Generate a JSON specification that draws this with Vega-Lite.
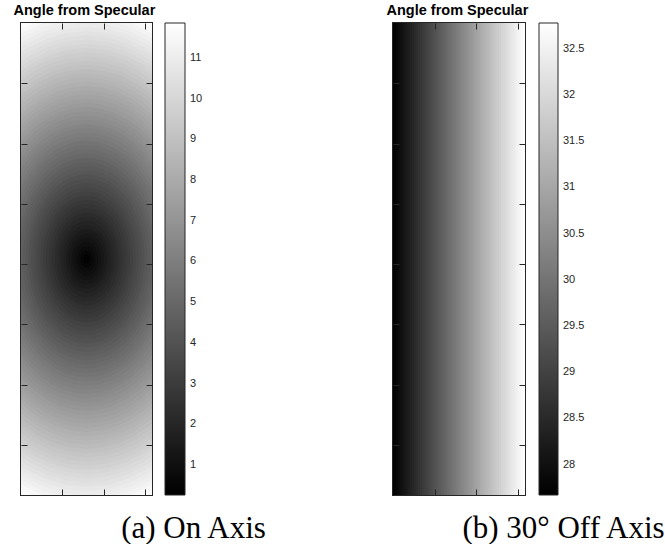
{
  "$schema": "https://vega.github.io/schema/vega-lite/v6.json",
  "padding": {"left": 12, "top": 2, "right": 0, "bottom": 0},
  "config": {
    "view": {"stroke": "#262626", "strokeWidth": 2},
    "font": "Liberation Sans",
    "axis": {"domain": false, "ticks": true, "offset": -6, "tickSize": 6, "tickColor": "#262626", "grid": false, "labels": false, "tickWidth": 1, "titleFont": "Liberation Serif", "titleFontSize": 31, "titleFontWeight": "normal", "titleColor": "#000000"}
  },
  "datasets": {
    "rings": [
      {"cx":1.58,"cy":3.915,"d":4.27,"v":11.91},{"cx":1.58,"cy":3.915,"d":4.20,"v":11.71},{"cx":1.58,"cy":3.915,"d":4.13,"v":11.52},{"cx":1.58,"cy":3.915,"d":4.06,"v":11.33},
      {"cx":1.58,"cy":3.915,"d":3.99,"v":11.14},{"cx":1.58,"cy":3.915,"d":3.92,"v":10.94},{"cx":1.58,"cy":3.915,"d":3.85,"v":10.75},{"cx":1.58,"cy":3.915,"d":3.78,"v":10.56},
      {"cx":1.58,"cy":3.915,"d":3.71,"v":10.37},{"cx":1.58,"cy":3.915,"d":3.64,"v":10.17},{"cx":1.58,"cy":3.915,"d":3.57,"v":9.98},{"cx":1.58,"cy":3.915,"d":3.50,"v":9.79},
      {"cx":1.58,"cy":3.915,"d":3.43,"v":9.60},{"cx":1.58,"cy":3.915,"d":3.36,"v":9.40},{"cx":1.58,"cy":3.915,"d":3.29,"v":9.21},{"cx":1.58,"cy":3.915,"d":3.22,"v":9.02},
      {"cx":1.58,"cy":3.915,"d":3.15,"v":8.83},{"cx":1.58,"cy":3.915,"d":3.08,"v":8.63},{"cx":1.58,"cy":3.915,"d":3.01,"v":8.44},{"cx":1.58,"cy":3.915,"d":2.94,"v":8.25},
      {"cx":1.58,"cy":3.915,"d":2.87,"v":8.06},{"cx":1.58,"cy":3.915,"d":2.80,"v":7.86},{"cx":1.58,"cy":3.915,"d":2.73,"v":7.67},{"cx":1.58,"cy":3.915,"d":2.66,"v":7.48},
      {"cx":1.58,"cy":3.915,"d":2.59,"v":7.29},{"cx":1.58,"cy":3.915,"d":2.52,"v":7.09},{"cx":1.58,"cy":3.915,"d":2.45,"v":6.90},{"cx":1.58,"cy":3.915,"d":2.38,"v":6.71},
      {"cx":1.58,"cy":3.915,"d":2.31,"v":6.52},{"cx":1.58,"cy":3.915,"d":2.24,"v":6.32},{"cx":1.58,"cy":3.915,"d":2.17,"v":6.13},{"cx":1.58,"cy":3.915,"d":2.10,"v":5.94},
      {"cx":1.58,"cy":3.915,"d":2.03,"v":5.75},{"cx":1.58,"cy":3.915,"d":1.96,"v":5.55},{"cx":1.58,"cy":3.915,"d":1.89,"v":5.36},{"cx":1.58,"cy":3.915,"d":1.82,"v":5.17},
      {"cx":1.58,"cy":3.915,"d":1.75,"v":4.98},{"cx":1.58,"cy":3.915,"d":1.68,"v":4.78},{"cx":1.58,"cy":3.915,"d":1.61,"v":4.59},{"cx":1.58,"cy":3.915,"d":1.54,"v":4.40},
      {"cx":1.58,"cy":3.915,"d":1.47,"v":4.21},{"cx":1.58,"cy":3.915,"d":1.40,"v":4.01},{"cx":1.58,"cy":3.915,"d":1.33,"v":3.82},{"cx":1.58,"cy":3.915,"d":1.26,"v":3.63},
      {"cx":1.58,"cy":3.915,"d":1.19,"v":3.44},{"cx":1.58,"cy":3.915,"d":1.12,"v":3.24},{"cx":1.58,"cy":3.915,"d":1.05,"v":3.05},{"cx":1.58,"cy":3.915,"d":0.98,"v":2.86},
      {"cx":1.58,"cy":3.915,"d":0.91,"v":2.67},{"cx":1.58,"cy":3.915,"d":0.84,"v":2.47},{"cx":1.58,"cy":3.915,"d":0.77,"v":2.28},{"cx":1.58,"cy":3.915,"d":0.70,"v":2.09},
      {"cx":1.58,"cy":3.915,"d":0.63,"v":1.90},{"cx":1.58,"cy":3.915,"d":0.56,"v":1.70},{"cx":1.58,"cy":3.915,"d":0.49,"v":1.51},{"cx":1.58,"cy":3.915,"d":0.42,"v":1.32},
      {"cx":1.58,"cy":3.915,"d":0.35,"v":1.13},{"cx":1.58,"cy":3.915,"d":0.28,"v":0.93},{"cx":1.58,"cy":3.915,"d":0.21,"v":0.74},{"cx":1.58,"cy":3.915,"d":0.14,"v":0.55},
      {"cx":1.58,"cy":3.915,"d":0.07,"v":0.36}
    ],
    "cols": [
      {"x0":0,"x1":0.08,"v":27.71},{"x0":0.05,"x1":0.13,"v":27.79},{"x0":0.1,"x1":0.18,"v":27.87},{"x0":0.15,"x1":0.23,"v":27.95},
      {"x0":0.2,"x1":0.28,"v":28.03},{"x0":0.25,"x1":0.33,"v":28.11},{"x0":0.3,"x1":0.38,"v":28.2},{"x0":0.35,"x1":0.43,"v":28.28},
      {"x0":0.4,"x1":0.48,"v":28.36},{"x0":0.45,"x1":0.53,"v":28.44},{"x0":0.5,"x1":0.58,"v":28.52},{"x0":0.55,"x1":0.63,"v":28.6},
      {"x0":0.6,"x1":0.68,"v":28.68},{"x0":0.65,"x1":0.73,"v":28.76},{"x0":0.7,"x1":0.78,"v":28.84},{"x0":0.75,"x1":0.83,"v":28.92},
      {"x0":0.8,"x1":0.88,"v":29.0},{"x0":0.85,"x1":0.93,"v":29.08},{"x0":0.9,"x1":0.98,"v":29.17},{"x0":0.95,"x1":1.03,"v":29.25},
      {"x0":1.0,"x1":1.08,"v":29.33},{"x0":1.05,"x1":1.13,"v":29.41},{"x0":1.1,"x1":1.18,"v":29.49},{"x0":1.15,"x1":1.23,"v":29.57},
      {"x0":1.2,"x1":1.28,"v":29.65},{"x0":1.25,"x1":1.33,"v":29.73},{"x0":1.3,"x1":1.38,"v":29.81},{"x0":1.35,"x1":1.43,"v":29.89},
      {"x0":1.4,"x1":1.48,"v":29.97},{"x0":1.45,"x1":1.53,"v":30.05},{"x0":1.5,"x1":1.58,"v":30.14},{"x0":1.55,"x1":1.63,"v":30.22},
      {"x0":1.6,"x1":1.68,"v":30.3},{"x0":1.65,"x1":1.73,"v":30.38},{"x0":1.7,"x1":1.78,"v":30.46},{"x0":1.75,"x1":1.83,"v":30.54},
      {"x0":1.8,"x1":1.88,"v":30.62},{"x0":1.85,"x1":1.93,"v":30.7},{"x0":1.9,"x1":1.98,"v":30.78},{"x0":1.95,"x1":2.03,"v":30.86},
      {"x0":2.0,"x1":2.08,"v":30.94},{"x0":2.05,"x1":2.13,"v":31.02},{"x0":2.1,"x1":2.18,"v":31.11},{"x0":2.15,"x1":2.23,"v":31.19},
      {"x0":2.2,"x1":2.28,"v":31.27},{"x0":2.25,"x1":2.33,"v":31.35},{"x0":2.3,"x1":2.38,"v":31.43},{"x0":2.35,"x1":2.43,"v":31.51},
      {"x0":2.4,"x1":2.48,"v":31.59},{"x0":2.45,"x1":2.53,"v":31.67},{"x0":2.5,"x1":2.58,"v":31.75},{"x0":2.55,"x1":2.63,"v":31.83},
      {"x0":2.6,"x1":2.68,"v":31.91},{"x0":2.65,"x1":2.73,"v":31.99},{"x0":2.7,"x1":2.78,"v":32.08},{"x0":2.75,"x1":2.83,"v":32.16},
      {"x0":2.8,"x1":2.88,"v":32.24},{"x0":2.85,"x1":2.93,"v":32.32},{"x0":2.9,"x1":2.98,"v":32.4},{"x0":2.95,"x1":3.03,"v":32.48},
      {"x0":3.0,"x1":3.08,"v":32.56},{"x0":3.05,"x1":3.13,"v":32.64},{"x0":3.1,"x1":3.18,"v":32.72},{"x0":3.15,"x1":3.23,"v":32.8}
    ],
    "centerA": [{"cx": 1.58, "cy": 3.915}],
    "centerB": [{"cx": 1.59, "cy": 3.915}]
  },
  "spacing": 241,
  "bounds": "flush",
  "resolve": {"scale": {"fill": "independent", "size": "independent"}, "legend": {"fill": "independent"}},
  "hconcat": [
    {
      "width": 131,
      "height": 472,
      "title": {"text": "Angle from Specular", "anchor": "start", "dx": -7, "offset": 4, "fontSize": 14.5, "fontWeight": "bold", "font": "Liberation Sans", "color": "#000000"},
      "layer": [
        {
          "data": {"name": "rings"},
          "mark": {"type": "point", "shape": "M0,-1L0.0898,-0.9914L0.178,-0.9659L0.2632,-0.9239L0.3439,-0.866L0.4187,-0.7934L0.4863,-0.7071L0.5457,-0.6088L0.5956,-0.5L0.6355,-0.3827L0.6644,-0.2588L0.6819,-0.1305L0.6878,0L0.6819,0.1305L0.6644,0.2588L0.6355,0.3827L0.5956,0.5L0.5457,0.6088L0.4863,0.7071L0.4187,0.7934L0.3439,0.866L0.2632,0.9239L0.178,0.9659L0.0898,0.9914L0,1L-0.0898,0.9914L-0.178,0.9659L-0.2632,0.9239L-0.3439,0.866L-0.4187,0.7934L-0.4863,0.7071L-0.5457,0.6088L-0.5956,0.5L-0.6355,0.3827L-0.6644,0.2588L-0.6819,0.1305L-0.6878,0L-0.6819,-0.1305L-0.6644,-0.2588L-0.6355,-0.3827L-0.5956,-0.5L-0.5457,-0.6088L-0.4863,-0.7071L-0.4187,-0.7934L-0.3439,-0.866L-0.2632,-0.9239L-0.178,-0.9659L-0.0898,-0.9914Z", "filled": true, "opacity": 1, "strokeWidth": 0, "clip": true},
          "encoding": {
            "x": {"field": "cx", "type": "quantitative", "scale": {"domain": [0, 3.16], "nice": false, "zero": false}, "axis": {"orient": "bottom", "zindex": 2, "values": [1, 2, 3], "title": "(a) On Axis", "titleX": 172, "titleY": 48, "titleAlign": "center", "titleBaseline": "alphabetic"}},
            "y": {"field": "cy", "type": "quantitative", "scale": {"domain": [0, 7.83], "nice": false, "zero": false, "reverse": true}, "axis": {"orient": "left", "zindex": 2, "values": [1, 2, 3, 4, 5, 6, 7], "title": null}},
            "size": {"field": "d", "type": "quantitative", "scale": {"type": "pow", "exponent": 2, "domain": [0, 4.27], "range": [0, 265015]}, "legend": null},
            "fill": {"field": "v", "type": "quantitative", "scale": {"domain": [0.26, 11.86], "range": ["#000000", "#ffffff"], "interpolate": "rgb", "clamp": true},
              "legend": {"type": "gradient", "orient": "none", "legendX": 144, "legendY": 0, "direction": "vertical", "gradientLength": 472, "gradientThickness": 20, "title": null, "values": [1, 2, 3, 4, 5, 6, 7, 8, 9, 10, 11], "format": "d", "labelFontSize": 11, "labelFont": "Liberation Sans", "labelColor": "#262626", "gradientStrokeColor": "#262626", "gradientStrokeWidth": 1, "labelOffset": 5}},
            "order": {"field": "d", "sort": "descending"}
          }
        },
        {
          "data": {"name": "centerA"},
          "mark": {"type": "point", "opacity": 0},
          "encoding": {
            "x": {"field": "cx", "type": "quantitative", "axis": {"orient": "top", "zindex": 2, "values": [1, 2, 3], "title": null}},
            "y": {"field": "cy", "type": "quantitative", "axis": {"orient": "right", "zindex": 2, "values": [1, 2, 3, 4, 5, 6, 7], "title": null}}
          }
        }
      ],
      "resolve": {"axis": {"x": "independent", "y": "independent"}}
    },
    {
      "width": 132,
      "height": 472,
      "title": {"text": "Angle from Specular", "anchor": "start", "dx": -6, "offset": 4, "fontSize": 14.5, "fontWeight": "bold", "font": "Liberation Sans", "color": "#000000"},
      "layer": [
        {
          "data": {"name": "cols"},
          "mark": {"type": "rect", "clip": true, "strokeWidth": 0},
          "encoding": {
            "x": {"field": "x0", "type": "quantitative", "scale": {"domain": [0, 3.18], "nice": false, "zero": false}, "axis": {"orient": "bottom", "zindex": 2, "values": [1, 2, 3], "title": "(b) 30° Off Axis", "titleX": 170, "titleY": 48, "titleAlign": "center", "titleBaseline": "alphabetic"}},
            "x2": {"field": "x1"},
            "y": {"datum": 0, "type": "quantitative", "scale": {"domain": [0, 7.83], "nice": false, "zero": false, "reverse": true}, "axis": {"orient": "left", "zindex": 2, "values": [1, 2, 3, 4, 5, 6, 7], "title": null}},
            "y2": {"datum": 7.83},
            "fill": {"field": "v", "type": "quantitative", "scale": {"domain": [27.67, 32.78], "range": ["#000000", "#ffffff"], "interpolate": "rgb", "clamp": true},
              "legend": {"type": "gradient", "orient": "none", "legendX": 146, "legendY": 0, "direction": "vertical", "gradientLength": 472, "gradientThickness": 19, "title": null, "values": [28, 28.5, 29, 29.5, 30, 30.5, 31, 31.5, 32, 32.5], "format": ".1~f", "labelFontSize": 11, "labelFont": "Liberation Sans", "labelColor": "#262626", "gradientStrokeColor": "#262626", "gradientStrokeWidth": 1, "labelOffset": 5}}
          }
        },
        {
          "data": {"name": "centerB"},
          "mark": {"type": "point", "opacity": 0},
          "encoding": {
            "x": {"field": "cx", "type": "quantitative", "axis": {"orient": "top", "zindex": 2, "values": [1, 2, 3], "title": null}},
            "y": {"field": "cy", "type": "quantitative", "axis": {"orient": "right", "zindex": 2, "values": [1, 2, 3, 4, 5, 6, 7], "title": null}}
          }
        }
      ],
      "resolve": {"axis": {"x": "independent", "y": "independent"}}
    }
  ]
}
